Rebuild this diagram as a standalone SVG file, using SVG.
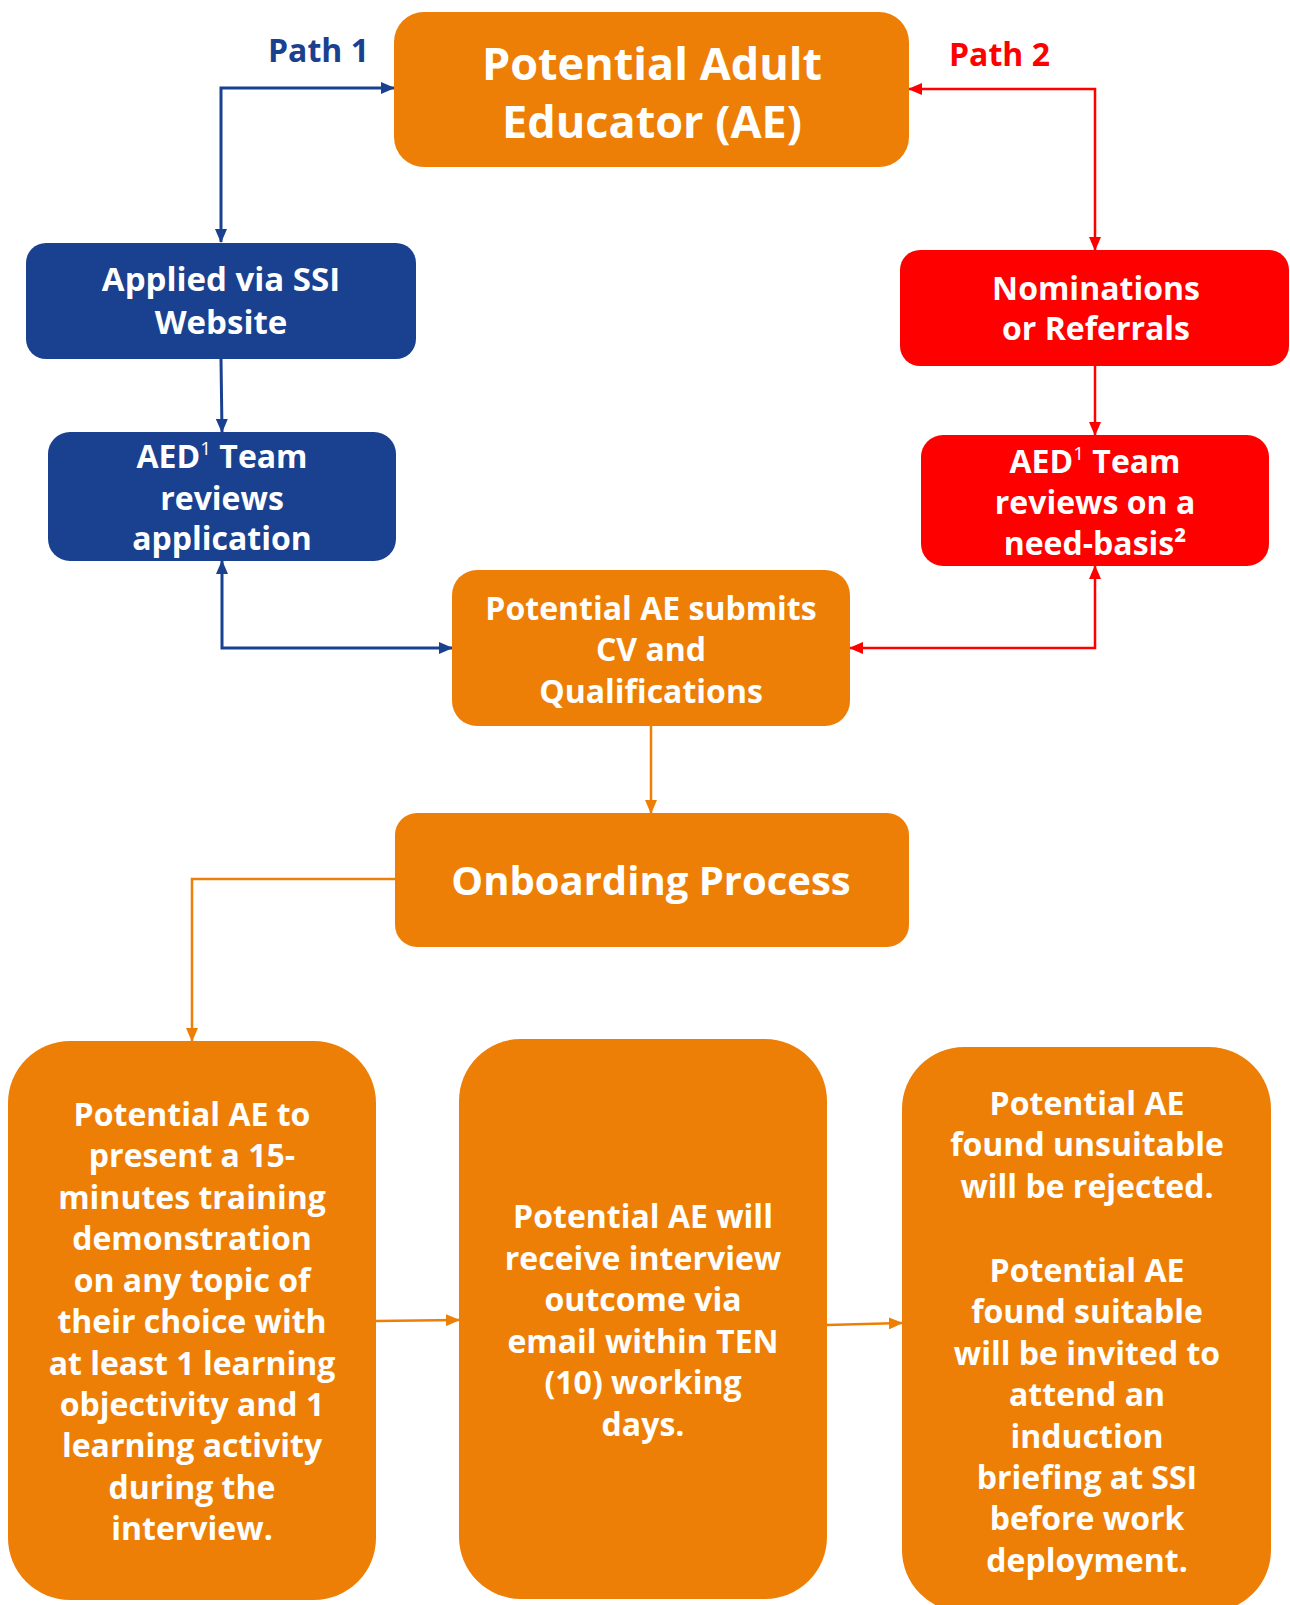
<svg xmlns="http://www.w3.org/2000/svg" width="1290" height="1605" viewBox="0 0 1290 1605">
<style>
.t{font-family:"Open Sans","Noto Sans","DejaVu Sans",sans-serif;font-weight:700;fill:#fff;text-anchor:middle}
.s32{font-size:32px}
.s44{font-size:45px}
.sup{font-size:19px;font-weight:400}
.or{fill:#EE7F06}
.bl{fill:#1A4190}
.rd{fill:#FF0000}
.cb{fill:none;stroke:#1A4190;stroke-width:3}
.cr{fill:none;stroke:#FF0000;stroke-width:2.5}
.co{fill:none;stroke:#EE7F06;stroke-width:2.5}
.lbl{font-family:"Open Sans","Noto Sans","DejaVu Sans",sans-serif;font-weight:700;font-size:32px}
</style>
<defs>
<marker id="mb" viewBox="0 0 14 12" refX="13" refY="6" markerWidth="14" markerHeight="12" markerUnits="userSpaceOnUse" orient="auto-start-reverse"><path d="M0,0 L14,6 L0,12 z" fill="#1A4190"/></marker>
<marker id="mr" viewBox="0 0 14 12" refX="13" refY="6" markerWidth="14" markerHeight="12" markerUnits="userSpaceOnUse" orient="auto-start-reverse"><path d="M0,0 L14,6 L0,12 z" fill="#FF0000"/></marker>
<marker id="mo" viewBox="0 0 14 12" refX="13" refY="6" markerWidth="14" markerHeight="12" markerUnits="userSpaceOnUse" orient="auto-start-reverse"><path d="M0,0 L14,6 L0,12 z" fill="#EE7F06"/></marker>
</defs>
<rect width="1290" height="1605" fill="#fff"/>

<g id="connectors">
<path class="cb" d="M221,242 V88 H394" marker-start="url(#mb)" marker-end="url(#mb)"/>
<path class="cb" d="M221,359 L222,432" marker-end="url(#mb)"/>
<path class="cb" d="M222,561 V648 H452" marker-start="url(#mb)" marker-end="url(#mb)"/>
<path class="cr" d="M909,89 H1095 V250" marker-start="url(#mr)" marker-end="url(#mr)"/>
<path class="cr" d="M1095,366 V435" marker-end="url(#mr)"/>
<path class="cr" d="M850,648 H1095 V566" marker-start="url(#mr)" marker-end="url(#mr)"/>
<path class="co" d="M651,726 V813" marker-end="url(#mo)"/>
<path class="co" d="M395,879 H192 V1041" marker-end="url(#mo)"/>
<path class="co" d="M376,1321 L459,1320" marker-end="url(#mo)"/>
<path class="co" d="M827,1325 L902,1323" marker-end="url(#mo)"/>
</g>

<g id="labels">
<text class="lbl" x="268" y="62" fill="#1A4190">Path 1</text>
<text class="lbl" x="949" y="66" fill="#FF0000">Path 2</text>
</g>

<g id="node-ae">
<rect class="or" x="394" y="12" width="515" height="155" rx="30"/>
<text class="t s44" x="652" y="80">Potential Adult</text>
<text class="t s44" x="652" y="138">Educator (AE)</text>
</g>

<g id="node-applied">
<rect class="bl" x="26" y="243" width="390" height="116" rx="20"/>
<text class="t" style="font-size:33px" x="221" y="291">Applied via SSI</text>
<text class="t" style="font-size:33px" x="221" y="334">Website</text>
</g>

<g id="node-aed-blue">
<rect class="bl" x="48" y="432" width="348" height="129" rx="22"/>
<text class="t s32" x="222" y="468">AED<tspan class="sup" dy="-13">1</tspan><tspan dy="13"> Team</tspan></text>
<text class="t s32" x="222" y="510">reviews</text>
<text class="t s32" x="222" y="550">application</text>
</g>

<g id="node-nominations">
<rect class="rd" x="900" y="250" width="389" height="116" rx="20"/>
<text class="t s32" x="1096" y="300">Nominations</text>
<text class="t s32" x="1096" y="340">or Referrals</text>
</g>

<g id="node-aed-red">
<rect class="rd" x="921" y="435" width="348" height="131" rx="22"/>
<text class="t s32" x="1095" y="473">AED<tspan class="sup" dy="-13">1</tspan><tspan dy="13"> Team</tspan></text>
<text class="t s32" x="1095" y="514">reviews on a</text>
<text class="t s32" x="1095" y="555">need-basis²</text>
</g>

<g id="node-submits">
<rect class="or" x="452" y="570" width="398" height="156" rx="25"/>
<text class="t s32" x="651" y="620">Potential AE submits</text>
<text class="t s32" x="651" y="661">CV and</text>
<text class="t s32" x="651" y="703">Qualifications</text>
</g>

<g id="node-onboarding">
<rect class="or" x="395" y="813" width="514" height="134" rx="22"/>
<text class="t" style="font-size:40px" x="651" y="895">Onboarding Process</text>
</g>

<g id="node-demo">
<rect class="or" x="8" y="1041" width="368" height="559" rx="62"/>
<text class="t s32" x="192" y="1126">Potential AE to</text>
<text class="t s32" x="192" y="1167">present a 15-</text>
<text class="t s32" x="192" y="1209">minutes training</text>
<text class="t s32" x="192" y="1250">demonstration</text>
<text class="t s32" x="192" y="1292">on any topic of</text>
<text class="t s32" x="192" y="1333">their choice with</text>
<text class="t s32" x="192" y="1375">at least 1 learning</text>
<text class="t s32" x="192" y="1416">objectivity and 1</text>
<text class="t s32" x="192" y="1457">learning activity</text>
<text class="t s32" x="192" y="1499">during the</text>
<text class="t s32" x="192" y="1540">interview.</text>
</g>

<g id="node-outcome">
<rect class="or" x="459" y="1039" width="368" height="560" rx="62"/>
<text class="t s32" x="643" y="1228">Potential AE will</text>
<text class="t s32" x="643" y="1270">receive interview</text>
<text class="t s32" x="643" y="1311">outcome via</text>
<text class="t s32" x="643" y="1353">email within TEN</text>
<text class="t s32" x="643" y="1394">(10) working</text>
<text class="t s32" x="643" y="1436">days.</text>
</g>

<g id="node-result">
<rect class="or" x="902" y="1047" width="369" height="565" rx="62"/>
<text class="t s32" x="1087" y="1115">Potential AE</text>
<text class="t s32" x="1087" y="1156">found unsuitable</text>
<text class="t s32" x="1087" y="1198">will be rejected.</text>
<text class="t s32" x="1087" y="1282">Potential AE</text>
<text class="t s32" x="1087" y="1323">found suitable</text>
<text class="t s32" x="1087" y="1365">will be invited to</text>
<text class="t s32" x="1087" y="1406">attend an</text>
<text class="t s32" x="1087" y="1448">induction</text>
<text class="t s32" x="1087" y="1489">briefing at SSI</text>
<text class="t s32" x="1087" y="1530">before work</text>
<text class="t s32" x="1087" y="1572">deployment.</text>
</g>
</svg>
